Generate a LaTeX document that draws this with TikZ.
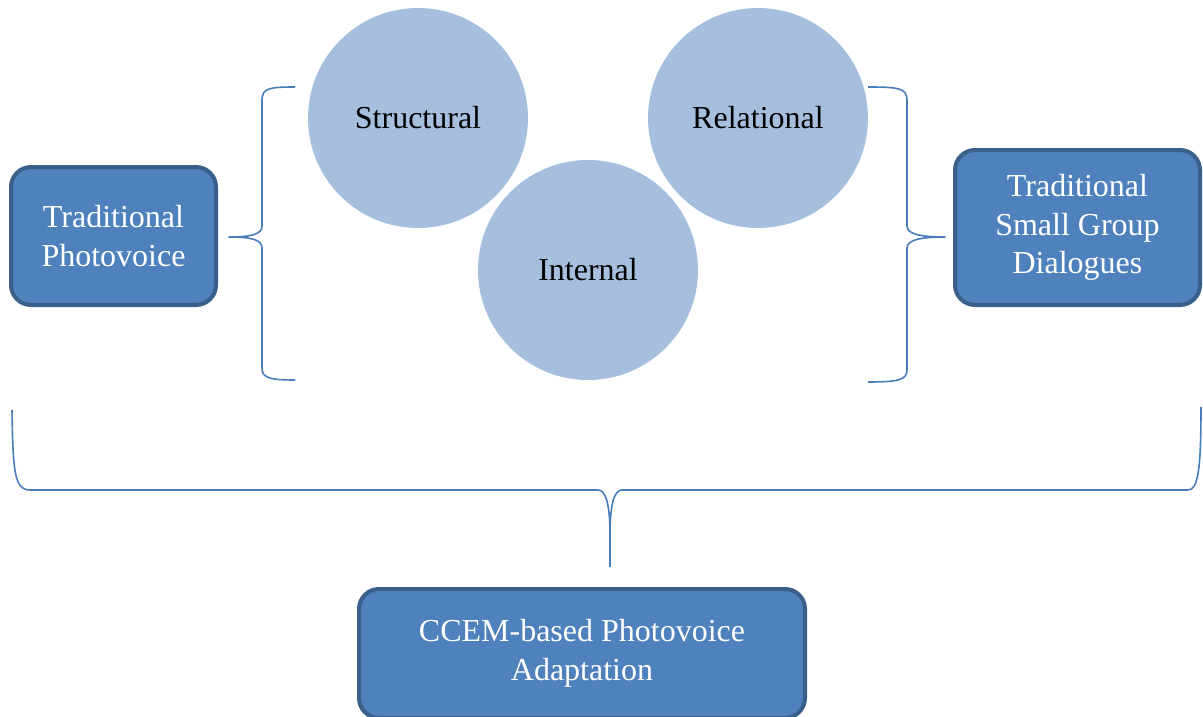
\documentclass[tikz,border=0pt]{standalone}
\usepackage{fontspec}
\setmainfont{Liberation Serif}
\definecolor{boxfill}{HTML}{4F81BD}
\definecolor{boxline}{HTML}{3A5F8B}
\definecolor{circfill}{HTML}{A7BFDE}
\definecolor{bracecol}{HTML}{4A7EBB}
\begin{document}
\begin{tikzpicture}[x=1pt,y=-1pt,
  stagebox/.style={rectangle, rounded corners=20pt, fill=boxfill, draw=boxline,
    line width=4pt, text=white, align=center, inner sep=0pt,
    font=\fontsize{32}{38.5}\selectfont},
  facet/.style={circle, fill=circfill, minimum size=220pt, inner sep=0pt,
    text=black, font=\fontsize{32}{38.5}\selectfont},
  bracket/.style={draw=bracecol, line width=1.6pt, line join=round}]
\useasboundingbox (0,0) rectangle (1203,717);
\fill[white] (0,0) rectangle (1203,717);
\clip (0,0) rectangle (1203,717);

% the three dimensions
\node[facet] (structural) at (418,118) {Structural};
\node[facet] (relational) at (758,118) {Relational};
\node[facet] (internal)   at (588,270) {Internal};

% the source approaches and the combined adaptation
\node[stagebox, minimum width=205pt, minimum height=138pt] (photovoice) at (113.5,236) {Traditional\\Photovoice};
\node[stagebox, minimum width=245pt, minimum height=155pt] (dialogues) at (1077.5,227.5) {Traditional\\Small Group\\Dialogues};
\node[stagebox, minimum width=446pt, minimum height=129pt] (ccem) at (582,653.5) {CCEM-based Photovoice\\Adaptation};

% brace ends
\coordinate (ltip) at (229,237);
\coordinate (ltop) at (295,87);
\coordinate (lbot) at (295,380);
\coordinate (rtip) at (945,237);
\coordinate (rtop) at (868,87);
\coordinate (rbot) at (868,382);
\coordinate (bleft) at (12,410);
\coordinate (bright) at (1201,407);
\coordinate (btip) at (610,567);

% left brace: Traditional Photovoice -> dimensions
\draw[bracket] (ltop) .. controls (270,87) and (262,88) .. (262,100)
  -- (262,226) .. controls (262,234) and (252,237) .. (ltip)
  .. controls (252,237) and (262,240) .. (262,248)
  -- (262,368) .. controls (262,378) and (270,380) .. (lbot);

% right brace: dimensions -> Traditional Small Group Dialogues
\draw[bracket] (rtop) .. controls (898,87) and (907,88) .. (907,100)
  -- (907,226) .. controls (907,234) and (920,237) .. (rtip)
  .. controls (920,237) and (907,240) .. (907,248)
  -- (907,370) .. controls (907,380) and (898,382) .. (rbot);

% bottom brace: everything above -> CCEM-based adaptation
\draw[bracket] (bleft) .. controls (13,470) and (14,490) .. (30,490)
  -- (598,490) .. controls (606,490) and (610,505) .. (610,535)
  -- (btip);
\draw[bracket] (610,535) .. controls (610,505) and (614,490) .. (622,490)
  -- (1188,490) .. controls (1198,490) and (1201,470) .. (bright);
\end{tikzpicture}
\end{document}
